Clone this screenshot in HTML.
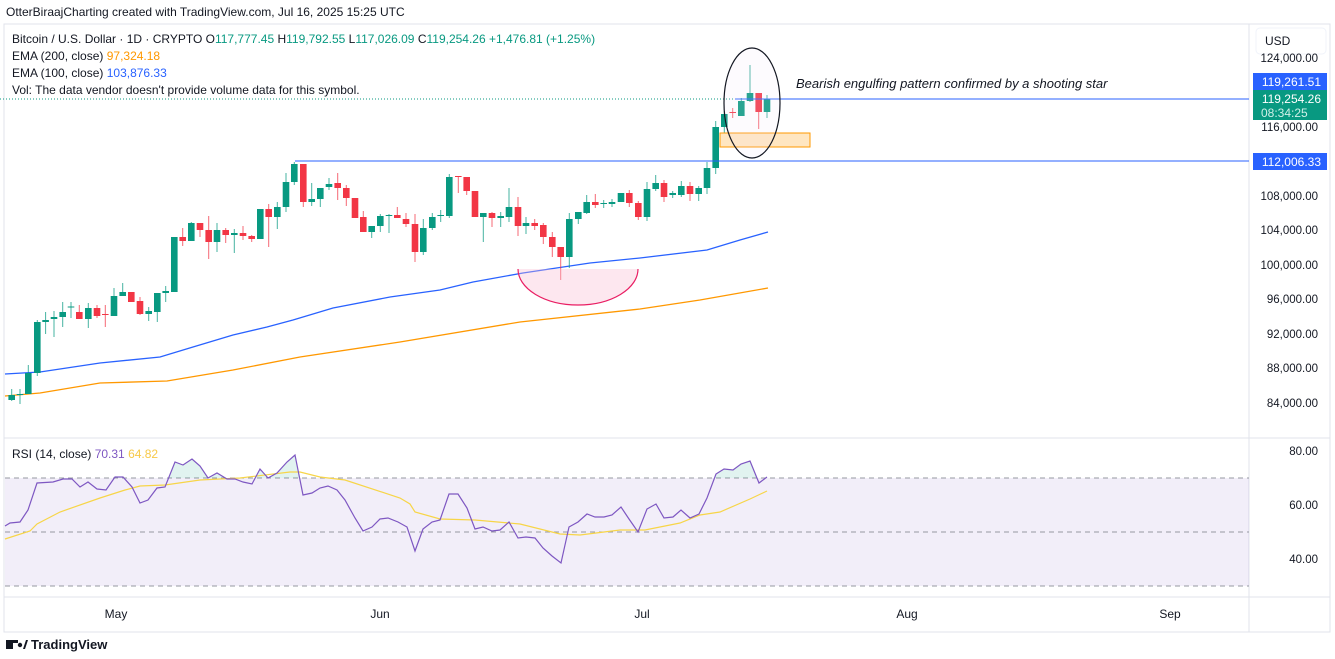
<!DOCTYPE html>
<html><head><meta charset="utf-8"><style>
body{margin:0;width:1335px;height:659px;background:#fff;overflow:hidden;font-family:"Liberation Sans",sans-serif}
svg{position:absolute;left:0;top:0}
</style></head><body>
<svg width="1335" height="659" xmlns="http://www.w3.org/2000/svg" font-family="Liberation Sans, sans-serif">
<text x="6" y="16" font-size="12" fill="#131722">OtterBiraajCharting created with TradingView.com, Jul 16, 2025 15:25 UTC</text>
<rect x="4" y="24" width="1326" height="608" fill="none" stroke="#e0e3eb"/>
<line x1="4" y1="438" x2="1330" y2="438" stroke="#e0e3eb"/>
<line x1="4" y1="597" x2="1330" y2="597" stroke="#e0e3eb"/>
<line x1="1249" y1="24" x2="1249" y2="632" stroke="#e0e3eb"/>
<rect x="5" y="478" width="1244" height="108" fill="#7e57c2" fill-opacity="0.1"/>
<g stroke="#9598a1" stroke-dasharray="5,4"><line x1="5" y1="478" x2="1249" y2="478"/><line x1="5" y1="532" x2="1249" y2="532"/><line x1="5" y1="586" x2="1249" y2="586"/></g>
<g id="main"></g>
<line x1="0" y1="99" x2="1249" y2="99" stroke="#089981" stroke-dasharray="1,2"/>
<line x1="295" y1="161" x2="1249" y2="161" stroke="#2962ff" stroke-width="1"/>
<line x1="735" y1="99" x2="1249" y2="99" stroke="#2962ff" stroke-width="1"/>
<rect x="720" y="133" width="90" height="14" fill="#ffe0b2" fill-opacity="0.8" stroke="#ff9800"/>
<ellipse cx="752" cy="103" rx="28" ry="55" fill="#f3e5f5" fill-opacity="0.15" stroke="#131722" stroke-width="1.2"/>
<path d="M518,269 A60,36 0 0 0 638,269 Z" fill="#f8bbd0" fill-opacity="0.35" stroke="none"/>
<path d="M518,269 A60,36 0 0 0 638,269" fill="none" stroke="#e91e63" stroke-width="1.2"/>
<text x="796" y="88" font-size="13" font-style="italic" fill="#131722">Bearish engulfing pattern confirmed by a shooting star</text>
<g font-size="12" fill="#131722">
<text x="12" y="43">Bitcoin / U.S. Dollar · 1D · CRYPTO  <tspan fill="#131722">O</tspan><tspan fill="#089981">117,777.45</tspan> H<tspan fill="#089981">119,792.55</tspan> L<tspan fill="#089981">117,026.09</tspan> C<tspan fill="#089981">119,254.26 +1,476.81 (+1.25%)</tspan></text>
<text x="12" y="60">EMA (200, close) <tspan fill="#ff9800">97,324.18</tspan></text>
<text x="12" y="77">EMA (100, close) <tspan fill="#2962ff">103,876.33</tspan></text>
<text x="12" y="94">Vol: The data vendor doesn't provide volume data for this symbol.</text>
<text x="12" y="458">RSI (14, close) <tspan fill="#7e57c2">70.31</tspan> <tspan fill="#f7c948">64.82</tspan></text>
</g>
<rect x="1256" y="28" width="70" height="26" rx="4" fill="#fff" stroke="#f0f3fa"/>
<text x="1265" y="45" font-size="12" fill="#131722">USD</text>
<g font-size="11.5" fill="#131722" text-anchor="end">
<text x="1318" y="62">124,000.00</text><text x="1318" y="131">116,000.00</text><text x="1318" y="200">108,000.00</text><text x="1318" y="234">104,000.00</text><text x="1318" y="269">100,000.00</text><text x="1318" y="303">96,000.00</text><text x="1318" y="338">92,000.00</text><text x="1318" y="372">88,000.00</text><text x="1318" y="407">84,000.00</text>
<text x="1318" y="455">80.00</text><text x="1318" y="509">60.00</text><text x="1318" y="563">40.00</text>
</g>
<rect x="1253" y="73" width="74" height="17" fill="#2962ff"/><text x="1321" y="86" font-size="12" fill="#fff" text-anchor="end">119,261.51</text>
<rect x="1253" y="90" width="74" height="30" fill="#089981"/><text x="1321" y="103" font-size="12" fill="#fff" text-anchor="end">119,254.26</text><text x="1261" y="117" font-size="12" fill="#d0f0e8">08:34:25</text>
<rect x="1253" y="153" width="74" height="17" fill="#2962ff"/><text x="1321" y="166" font-size="12" fill="#fff" text-anchor="end">112,006.33</text>
<g font-size="12" fill="#131722" text-anchor="middle"><text x="116" y="618">May</text><text x="380" y="618">Jun</text><text x="642" y="618">Jul</text><text x="907" y="618">Aug</text><text x="1170" y="618">Sep</text></g>
<g transform="translate(6,638)"><rect x="0" y="2" width="7" height="9" fill="#131722"/><rect x="0" y="2" width="12" height="3" fill="#131722"/><circle cx="14" cy="7" r="2.2" fill="#131722"/><path d="M17,11 L20,2 L22,2 L19,11Z" fill="#131722"/></g>
<text x="31" y="649" font-size="13" font-weight="bold" fill="#131722">TradingView</text>
</svg>
<script>
const C=[[11.7,400,395,389,401,1],[20,395,394,389,404,1],[28.3,394,373,365,394,1],[37.3,373,322,320,376,1],[45.6,322,320,312,334,1],[54,319,317,311,337,1],[62.7,317,312,302,327,1],[71,307.5,306.5,302,318,1],[79.3,312,319,305,319,0],[88.3,319,308,303,328,1],[97,308,316,305,318,0],[105.3,314,315,305,327,0],[114,316,296,288,316,1],[122.7,296,292,283,296,1],[131.3,292,302,292,302,0],[140,301,314,297,315,0],[148.7,314,311,307,321,1],[157.3,312,293,293,322,1],[165.7,293,291,286,302,1],[174.3,292,237,237,292,1],[182.7,237,241,228,246,0],[191.3,241,223,222,241,1],[200,223,230,223,237,0],[208.7,230,242,216,259,0],[217,242,230,223,252,1],[225.7,230,235,228,243,0],[234.3,235,233,229,253,1],[243,233,236,226,240,0],[251.7,236,239,235,242,0],[260.3,239,209,209,239,1],[268.7,209,217,204,247,0],[277.3,217,207,202,229,1],[286,207,182,173,212,1],[294.3,182,164,162,185,1],[303.3,164,202,164,207,0],[311.7,202,199,183,206,1],[320.3,199,188,188,207,1],[329,187,184,178,190,1],[337.7,183,188,173,200,0],[346.3,188,198,185,206,0],[355,198,218,198,218,0],[363.3,217,232,211,232,0],[371.7,232,226,226,238,1],[380.3,226,216,214,232,1],[389,216,215,214,233,1],[397.3,215,218,207,218,0],[406,219,224,213,227,0],[415,224,252,214,262,0],[423.3,252,228,219,255,1],[432.3,228,217,213,230,1],[440.7,216,215,210,222,1],[449.3,216,177,174,218,1],[458.3,176,177,176,193,0],[466.7,177,191,177,195,0],[475,191,217,191,217,0],[483.3,217,213,213,242,1],[492,213,218,212,227,0],[500.7,218,216,212,227,1],[509,217,207,188,222,1],[518,207,226,197,236,0],[526,226,223,217,234,1],[534.7,223,226,219,230,0],[543.3,225,237,223,244,0],[552.3,237,247,232,257,0],[560.7,247,257,247,280,0],[569.3,257,219,213,268,1],[578.3,219,212,212,224,1],[586.7,213,202,195,214,1],[595.3,202,205,194,208,0],[603.7,204,203,200,208,1],[612,204,202,199,207,1],[621,202,193,193,202,1],[629.3,193,203,190,207,0],[638.3,203,217,201,220,0],[647,217,189,182,221,1],[655.7,189,183,175,191,1],[664,183,197,180,202,0],[672.7,195,193,191,198,1],[681.3,195,186,181,197,1],[690,186,194,182,201,0],[698.7,194,188,186,201,1],[707,188,168,162,194,1],[715.7,168,127,121,174,1],[724.3,127,114,111,133,1],[732.7,112,113,108,118,0],[741.3,116,101,98,116,1],[750,101,93,65,102,1],[758.7,93,112,93,129,0],[767,112,99,95,118,1]];
let s='';
const blue=[[5,374],[40,372],[100,363],[160,357],[193,347],[233,335],[267,327],[293,320],[333,308],[390,297],[440,290],[473,282],[523,273],[590,263],[640,258],[707,250],[740,240],[768,232]];
const org=[[5,396],[40,393],[100,383],[167,381],[233,370],[300,357],[400,342],[520,322],[640,309],[700,300],[768,288]];
const pl=a=>a.map(p=>p.join(',')).join(' ');
s+=`<polyline points="${pl(org)}" fill="none" stroke="#ff9800" stroke-width="1.3"/>`;
s+=`<polyline points="${pl(blue)}" fill="none" stroke="#2962ff" stroke-width="1.3"/>`;
for(const [x,o,c,h,l,g] of C){const col=g?'#089981':'#f23645';const t=Math.min(o,c),b=Math.max(o,c);
s+=`<line x1="${x}" y1="${h}" x2="${x}" y2="${l}" stroke="${col}" stroke-opacity="0.75"/>`;
s+=`<rect x="${x-3.3}" y="${t}" width="6.6" height="${Math.max(1,b-t)}" fill="${col}"/>`;}
const rsi=[[5,526],[10,523],[20,522],[28,510],[37,483],[53,482],[63,479],[72,479],[80,487],[88,482],[97,489],[106,490],[115,477],[123,477],[132,487],[140,503],[148,500],[157,488],[165,487],[175,462],[183,465],[192,459],[200,466],[208,478],[217,473],[227,479],[235,479],[243,482],[252,484],[260,469],[268,478],[277,473],[287,462],[295,455],[303,495],[312,493],[320,488],[328,486],[337,490],[345,500],[355,518],[363,531],[372,527],[380,519],[388,518],[398,522],[407,527],[415,551],[423,529],[432,522],[440,520],[449,494],[458,494],[467,508],[475,529],[483,527],[492,531],[500,530],[509,522],[518,538],[526,537],[535,538],[543,548],[552,556],[561,563],[569,527],[578,522],[587,514],[595,517],[604,517],[612,515],[621,507],[629,519],[638,532],[647,509],[656,504],[664,518],[673,517],[681,510],[690,518],[699,514],[707,498],[716,474],[724,469],[733,470],[741,464],[750,461],[759,483],[767,477]];
const ma=[[5,539],[30,531],[37,524],[60,512],[100,498],[125,490],[140,486],[165,485],[200,480],[240,478],[290,472],[300,472],[320,477],[345,480],[400,498],[410,504],[415,512],[440,519],[475,520],[520,524],[560,534],[580,535],[620,530],[645,530],[680,523],[700,515],[720,512],[750,499],[767,491]];
s+=`<clipPath id="ob"><rect x="0" y="440" width="1249" height="38"/></clipPath>`;
s+=`<polygon clip-path="url(#ob)" points="5,478 ${pl(rsi)} 767,478" fill="#089981" fill-opacity="0.12"/>`;
s+=`<polyline points="${pl(ma)}" fill="none" stroke="#f7d548" stroke-width="1.2"/>`;
s+=`<polyline points="${pl(rsi)}" fill="none" stroke="#7e57c2" stroke-width="1.2"/>`;
document.getElementById('main').innerHTML=s;
</script>
</body></html>
